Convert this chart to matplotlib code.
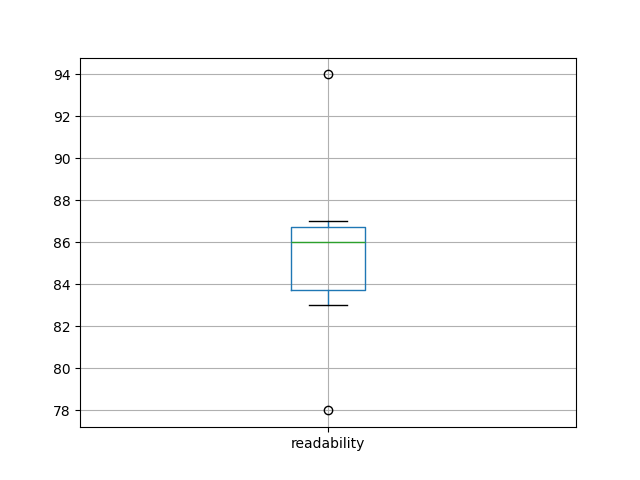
import matplotlib
matplotlib.use("Agg")
import matplotlib.pyplot as plt
import pandas as pd

# readability scores
readability = [78, 83, 86, 86, 87, 94]

df = pd.DataFrame({"readability": readability})

fig, ax = plt.subplots(figsize=(6.4, 4.8), dpi=100)
df.boxplot(column=["readability"], ax=ax)
fig.savefig("out.png")
